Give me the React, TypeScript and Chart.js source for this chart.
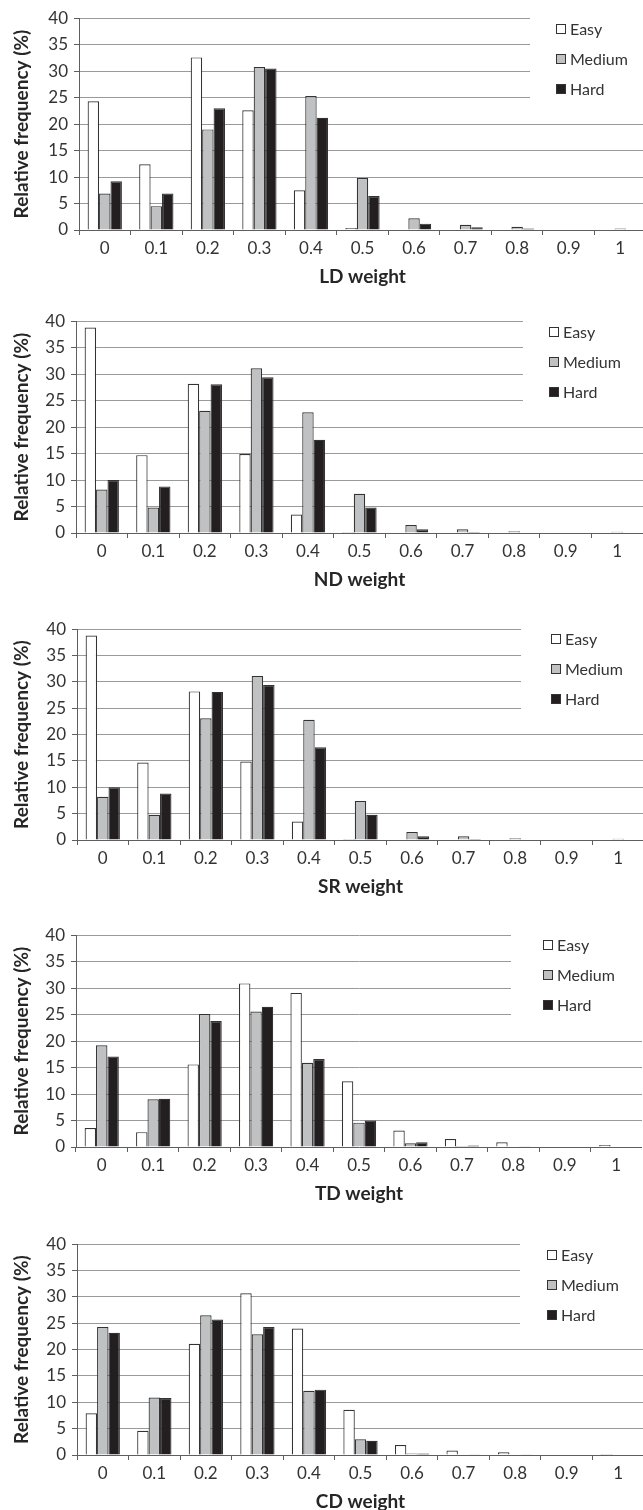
import React, { useEffect, useRef } from 'react';
import { Chart, registerables } from 'chart.js';

Chart.register(...registerables);

// Category labels (weight values) and series names
const weights = ['0', '0.1', '0.2', '0.3', '0.4', '0.5', '0.6', '0.7', '0.8', '0.9', '1'];
const levels = ['Easy', 'Medium', 'Hard'];
const yMax = 40;
const yStep = 5;

// Relative frequency (%) per weight value, one set per panel
const ldEasy = [24.3, 12.4, 32.6, 22.6, 7.5, 0.4, 0, 0, 0, 0, 0];
const ldMedium = [6.9, 4.5, 19.0, 30.8, 25.3, 9.8, 2.2, 1.0, 0.6, 0, 0.3];
const ldHard = [9.2, 6.9, 23.0, 30.5, 21.2, 6.4, 1.2, 0.5, 0.3, 0, 0.1];

const ndEasy = [38.8, 14.7, 28.2, 14.9, 3.5, 0.2, 0, 0, 0, 0, 0];
const ndMedium = [8.2, 4.8, 23.1, 31.1, 22.8, 7.4, 1.5, 0.7, 0.35, 0, 0.25];
const ndHard = [10.0, 8.8, 28.1, 29.4, 17.6, 4.8, 0.7, 0.2, 0.1, 0, 0];

const srEasy = [38.8, 14.7, 28.2, 14.9, 3.5, 0.2, 0, 0, 0, 0, 0];
const srMedium = [8.2, 4.8, 23.1, 31.1, 22.8, 7.4, 1.5, 0.7, 0.35, 0, 0.25];
const srHard = [10.0, 8.8, 28.1, 29.4, 17.6, 4.8, 0.7, 0.2, 0.1, 0, 0];

const tdEasy = [3.6, 2.8, 15.6, 30.9, 29.1, 12.4, 3.1, 1.5, 0.9, 0, 0.4];
const tdMedium = [19.2, 9.0, 25.1, 25.6, 15.9, 4.6, 0.7, 0.2, 0.1, 0, 0];
const tdHard = [17.1, 9.1, 23.8, 26.5, 16.6, 5.0, 0.9, 0.3, 0.15, 0, 0];

const cdEasy = [7.9, 4.6, 21.1, 30.7, 24.0, 8.6, 1.9, 0.85, 0.5, 0, 0.2];
const cdMedium = [24.3, 10.9, 26.5, 22.9, 12.2, 3.0, 0.3, 0.1, 0.1, 0, 0];
const cdHard = [23.2, 10.8, 25.7, 24.3, 12.4, 2.7, 0.3, 0.05, 0.05, 0, 0];

const panels = [
  { axisTitle: 'LD weight', series: [ldEasy, ldMedium, ldHard] },
  { axisTitle: 'ND weight', series: [ndEasy, ndMedium, ndHard] },
  { axisTitle: 'SR weight', series: [srEasy, srMedium, srHard] },
  { axisTitle: 'TD weight', series: [tdEasy, tdMedium, tdHard] },
  { axisTitle: 'CD weight', series: [cdEasy, cdMedium, cdHard] },
];

// Page placement of each plot area and its legend (page pixels)
const frames = [
  { left: 79, right: 646, top: 16, bottom: 230, boxLeft: 530, swatchX: 556, textX: 570, firstRow: 11 },
  { left: 76, right: 643, top: 319, bottom: 533, boxLeft: 523, swatchX: 549, textX: 563, firstRow: 11 },
  { left: 77, right: 644, top: 627, bottom: 840, boxLeft: 521, swatchX: 551, textX: 565, firstRow: 10 },
  { left: 76, right: 642, top: 933, bottom: 1147, boxLeft: 511, swatchX: 543, textX: 557, firstRow: 10 },
  { left: 77, right: 644, top: 1242, bottom: 1455, boxLeft: 520, swatchX: 547, textX: 561, firstRow: 11 },
];

const PAD_TOP = 14;
const AXIS_BAND = 62;
const FONT = 'Lato, "Open Sans", sans-serif';
const fills = ['#ffffff', '#c0c1c3', '#231f20'];
const edge = '#333333';
const gridColor = '#9a9a9a';
const axisColor = '#5e5e5e';
const labelColor = '#333333';
const titleColor = '#262626';

const boxLegend = {
  id: 'boxLegend',
  beforeDatasetsDraw(chart: any, _args: any, opts: any) {
    const { ctx, chartArea } = chart;
    ctx.save();
    ctx.fillStyle = '#ffffff';
    ctx.fillRect(opts.boxLeft, chartArea.top - 6, chart.width - opts.boxLeft, 100);
    ctx.font = `16px ${FONT}`;
    ctx.textBaseline = 'middle';
    ctx.textAlign = 'left';
    chart.data.datasets.forEach((ds: any, i: number) => {
      const y = Math.round(chartArea.top + opts.firstRow + i * 30);
      ctx.fillStyle = ds.backgroundColor;
      ctx.fillRect(opts.swatchX + 0.5, y - 4.5, 9, 9);
      ctx.strokeStyle = ds.borderColor;
      ctx.lineWidth = 1;
      ctx.strokeRect(opts.swatchX + 0.5, y - 4.5, 9, 9);
      ctx.fillStyle = labelColor;
      ctx.fillText(ds.label, opts.textX, y + 1);
    });
    ctx.restore();
  },
};

function Panel({ index }: { index: number }) {
  const ref = useRef<HTMLCanvasElement>(null);
  const frame = frames[index];
  const panel = panels[index];
  const canvasTop = frame.top - PAD_TOP;
  const width = frame.right;
  const height = frame.bottom - canvasTop + AXIS_BAND;

  useEffect(() => {
    const canvas = ref.current;
    if (!canvas) return;
    const chart = new Chart(canvas, {
      type: 'bar',
      data: {
        labels: weights,
        datasets: levels.map((name, i) => ({
          label: name,
          data: panel.series[i],
          backgroundColor: fills[i],
          borderColor: edge,
          borderWidth: 1.2,
          categoryPercentage: 0.665,
          barPercentage: 1,
        })),
      },
      options: {
        animation: false,
        responsive: false,
        devicePixelRatio: 1,
        layout: { padding: { top: PAD_TOP, left: 0, right: 0, bottom: 0 } },
        plugins: {
          legend: { display: false },
          tooltip: { enabled: false },
          boxLegend: {
            boxLeft: frame.boxLeft,
            swatchX: frame.swatchX,
            textX: frame.textX,
            firstRow: frame.firstRow,
          },
        } as any,
        scales: {
          x: {
            afterFit: (s: any) => {
              s.height = AXIS_BAND;
            },
            grid: {
              offset: true,
              drawOnChartArea: false,
              drawTicks: true,
              tickLength: 5,
              color: axisColor,
            },
            border: { display: true, color: axisColor, width: 1 },
            ticks: {
              color: labelColor,
              font: { family: FONT, size: 17 },
              padding: 3,
              maxRotation: 0,
            },
            title: {
              display: true,
              text: panel.axisTitle,
              color: titleColor,
              font: { family: FONT, size: 19, weight: 'bold', lineHeight: 1.2 },
              padding: { top: 0, bottom: 4 },
            },
          },
          y: {
            min: 0,
            max: yMax,
            afterFit: (s: any) => {
              s.width = frame.left;
            },
            grid: {
              color: (c: any) => (c.tick && c.tick.value === 0 ? 'rgba(0,0,0,0)' : gridColor),
              borderDash: [5, 3],
              tickColor: axisColor,
              tickBorderDash: [],
              tickLength: 5,
              lineWidth: 1,
            },
            border: { display: true, color: axisColor, width: 1 },
            ticks: {
              stepSize: yStep,
              color: labelColor,
              font: { family: FONT, size: 17 },
              padding: 6,
            },
            title: {
              display: true,
              text: 'Relative frequency (%)',
              color: titleColor,
              font: { family: FONT, size: 19, weight: 'bold', lineHeight: 1.2 },
              padding: { top: 10, bottom: 0 },
            },
          },
        },
      } as any,
      plugins: [boxLegend],
    });
    return () => chart.destroy();
  }, []);

  return (
    <canvas
      ref={ref}
      width={width}
      height={height}
      style={{ position: 'absolute', left: 0, top: canvasTop, width, height }}
    />
  );
}

export default function App() {
  return (
    <div
      style={{
        position: 'absolute',
        left: 0,
        top: 0,
        width: 643,
        height: 1510,
        overflow: 'hidden',
        background: '#ffffff',
      }}
    >
      {panels.map((_, i) => (
        <Panel key={i} index={i} />
      ))}
    </div>
  );
}
